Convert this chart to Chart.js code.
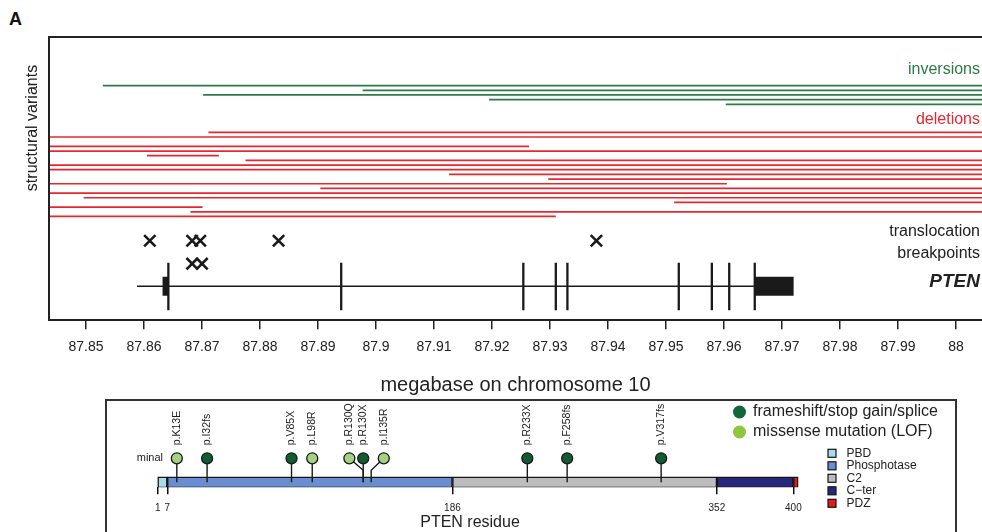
<!DOCTYPE html>
<html>
<head>
<meta charset="utf-8">
<script src="https://cdn.jsdelivr.net/npm/chart.js@4.4.1/dist/chart.umd.min.js"></script>
<style>
  html, body { margin: 0; padding: 0; background: #fff; overflow: hidden; width: 982px; height: 532px; }
  #top { position: absolute; left: 0; top: 0; }
  #panel { position: absolute; left: 105px; top: 399px; width: 852px; height: 160px; border: 2px solid #333; box-sizing: border-box; }
  #bottom { position: absolute; left: 106px; top: 401px; }
  #tag { position: absolute; left: 9px; top: 9px; font: bold 18px "Liberation Sans", Arial, sans-serif; color: #111; }
</style>
</head>
<body>
<div id="tag">A</div>
<canvas id="top" width="982" height="400"></canvas>
<div id="panel"></div>
<canvas id="bottom" width="850" height="140"></canvas>
<script>
const FONT = '"Liberation Sans", Arial, Helvetica, sans-serif';
const GREEN = "#2b7a47";
const RED = "#e8262d";
const INK = "#1a1a1a";

// ---- top panel: megabase on chromosome 10 ----
const tickValues = [87.85, 87.86, 87.87, 87.88, 87.89, 87.9, 87.91, 87.92, 87.93, 87.94, 87.95, 87.96, 87.97, 87.98, 87.99, 88];
const tickLabels = ["87.85", "87.86", "87.87", "87.88", "87.89", "87.9", "87.91", "87.92", "87.93", "87.94", "87.95", "87.96", "87.97", "87.98", "87.99", "88"];

// inversions (start, end in Mb), one per row
const invStart = [87.8529, 87.8977, 87.8702, 87.9195, 87.9603];
const invEnd = [88.05, 88.05, 88.05, 88.05, 88.05];
const invRow = [0, 1, 2, 3, 4];

// deletions
const delStart = [87.8711, 87.80, 87.80, 87.80, 87.8605, 87.8775, 87.80, 87.80, 87.9126, 87.9297, 87.80, 87.8904, 87.80, 87.8496, 87.9514, 87.80, 87.8680, 87.80];
const delEnd = [88.05, 88.05, 87.9264, 88.05, 87.8729, 88.05, 88.05, 88.05, 88.05, 88.05, 87.9605, 88.05, 88.05, 88.05, 88.05, 87.8701, 88.05, 87.9310];
const delRow = [10, 11, 13, 14, 15, 16, 17, 18, 19, 20, 21, 22, 23, 24, 25, 26, 27, 28];

// translocation breakpoints
const bpPos = [87.8610, 87.8683, 87.8697, 87.8832, 87.9380, 87.8683, 87.8700];
const bpRow = [33.2, 33.2, 33.2, 33.2, 33.2, 38.1, 38.1];

// PTEN gene model
const geneStart = 87.8588, geneEnd = 87.9653, geneRow = 42.93;
const exonPos = [87.8642, 87.8940, 87.9254, 87.9310, 87.9330, 87.9522, 87.9579, 87.9609, 87.9653];
const exonTop = 37.93, exonBottom = 48.07;
const utrStart = [87.8632, 87.9653];
const utrEnd = [87.8643, 87.9720];

function segment(x0, x1, y0, y1, color, width) {
  return {
    data: [{ x: x0, y: y0 }, { x: x1, y: y1 }],
    showLine: true, borderColor: color, borderWidth: width,
    borderCapStyle: "butt", pointRadius: 0, pointHoverRadius: 0, order: 2
  };
}

const topSets = [];
invStart.forEach((s, i) => topSets.push(segment(s, invEnd[i], invRow[i], invRow[i], GREEN, 1.7)));
delStart.forEach((s, i) => topSets.push(segment(s, delEnd[i], delRow[i], delRow[i], RED, 1.7)));
topSets.push(segment(geneStart, geneEnd, geneRow, geneRow, INK, 1.5));
exonPos.forEach(x => topSets.push(segment(x, x, exonTop, exonBottom, INK, 2.3)));
utrStart.forEach((s, i) => topSets.push(segment(s, utrEnd[i], geneRow, geneRow, INK, 19)));
topSets.push({
  data: bpPos.map((x, i) => ({ x: x, y: bpRow[i] })),
  pointStyle: "crossRot", pointRadius: 8, pointHoverRadius: 8,
  borderColor: INK, borderWidth: 2.6, order: 0
});

const topDecor = {
  id: "topDecor",
  afterDraw(chart) {
    const { ctx, chartArea: a } = chart;
    ctx.save();
    ctx.strokeStyle = "#222";
    ctx.lineWidth = 2;
    ctx.beginPath();
    ctx.moveTo(a.left, a.bottom);
    ctx.lineTo(a.left, a.top);
    ctx.lineTo(a.right, a.top);
    ctx.stroke();

    ctx.fillStyle = "#222";
    ctx.font = "16px " + FONT;
    ctx.textBaseline = "middle";
    ctx.save();
    ctx.translate(33, 128);
    ctx.rotate(-Math.PI / 2);
    ctx.textAlign = "center";
    ctx.fillText("structural variants", 0, 0);
    ctx.restore();

    ctx.textAlign = "right";
    const rx = a.right - 2;
    ctx.fillStyle = GREEN;
    ctx.fillText("inversions", rx, 70);
    ctx.fillStyle = RED;
    ctx.fillText("deletions", rx, 120);
    ctx.fillStyle = "#222";
    ctx.fillText("translocation", rx, 232);
    ctx.fillText("breakpoints", rx, 254);
    ctx.font = "italic bold 19px " + FONT;
    ctx.fillText("PTEN", rx, 282);
    ctx.restore();
  }
};

new Chart(document.getElementById("top"), {
  type: "scatter",
  data: { datasets: topSets },
  options: {
    responsive: false,
    animation: false,
    events: [],
    layout: { autoPadding: false, padding: { left: 49, top: 37, right: 0, bottom: 3 } },
    plugins: { legend: { display: false }, tooltip: { enabled: false } },
    scales: {
      x: {
        type: "linear", min: 87.84362, max: 88.00448,
        afterBuildTicks: s => { s.ticks = tickValues.map(v => ({ value: v })); },
        afterFit: s => { s.paddingLeft = 0; s.paddingRight = 0; },
        border: { display: true, color: "#222", width: 2 },
        grid: { drawOnChartArea: false, drawTicks: true, tickLength: 9, color: "#222", lineWidth: 1.5 },
        ticks: {
          autoSkip: false, maxRotation: 0, padding: 10, color: "#222",
          font: { family: FONT, size: 14 },
          callback: (v, i) => tickLabels[i]
        },
        title: {
          display: true, text: "megabase on chromosome 10", color: "#222",
          font: { family: FONT, size: 20 }, padding: { top: 7, bottom: 0 }
        }
      },
      y: { type: "linear", reverse: true, min: -10.4, max: 50.2, display: false }
    }
  },
  plugins: [topDecor]
});

// ---- bottom panel: PTEN protein ----
const domName = ["PBD", "Phosphotase", "C2", "C\u2212ter", "PDZ"];
const domStart = [1, 7, 186, 352, 400];
const domEnd = [7, 186, 352, 400, 403];
const domColor = ["#a9dce9", "#6a8ed0", "#bdbdbd", "#26267a", "#e41a1c"];
const residueTicks = [1, 7, 186, 352, 400];

const mutName = ["p.K13E", "p.I32fs", "p.V85X", "p.L98R", "p.R130Q", "p.R130X", "p.I135R", "p.R233X", "p.F258fs", "p.V317fs"];
const mutPos = [13, 32, 85, 98, 130, 130, 135, 233, 258, 317];
const mutType = ["missense", "truncating", "truncating", "missense", "missense", "truncating", "missense", "truncating", "truncating", "truncating"];

// layout only: sideways nudge of crowded lollipop heads, in residues
const headShift = [0, 0, 0, 0, -8.7, 0, 7.9, 0, 0, 0];
const BAR_Y = 5, KNEE_Y = 17, HEAD_Y = 29, LABEL_Y = 42;
const DARK = "#0f5c30", LIGHT = "#a3d283";
const LEG_DARK = "#11673a", LEG_LIGHT = "#8dc63f";

const botSets = [];
botSets.push({
  type: "bar", indexAxis: "y", barThickness: 11,
  data: domStart.map((s, i) => ({ x: [s, domEnd[i]], y: BAR_Y })),
  backgroundColor: domColor, borderColor: "#151515", borderWidth: 1.5,
  borderSkipped: false, order: 3
});
mutPos.forEach((p, i) => {
  const pts = [{ x: p, y: BAR_Y }];
  if (headShift[i] !== 0) pts.push({ x: p, y: KNEE_Y });
  pts.push({ x: p + headShift[i], y: HEAD_Y });
  botSets.push({
    type: "scatter", data: pts, showLine: true, borderColor: "#1a1a1a",
    borderWidth: 1.4, pointRadius: 0, pointHoverRadius: 0, order: 1
  });
});
botSets.push({
  type: "scatter",
  data: mutPos.map((p, i) => ({ x: p + headShift[i], y: HEAD_Y })),
  pointRadius: 5.5, pointHoverRadius: 5.5,
  backgroundColor: mutType.map(t => t === "missense" ? LIGHT : DARK),
  borderColor: "#1a1a1a", borderWidth: 1.3, order: 0, clip: false
});

const botDecor = {
  id: "botDecor",
  afterDraw(chart) {
    const { ctx } = chart;
    const x = chart.scales.x, y = chart.scales.y;
    ctx.save();
    ctx.fillStyle = "#222";
    ctx.font = "10.5px " + FONT;
    ctx.textBaseline = "middle";
    mutName.forEach((n, i) => {
      ctx.save();
      ctx.translate(x.getPixelForValue(mutPos[i] + headShift[i]), y.getPixelForValue(LABEL_Y));
      ctx.rotate(-Math.PI / 2);
      ctx.textAlign = "left";
      ctx.fillText(n, 0, 0);
      ctx.restore();
    });
    ctx.font = "11px " + FONT;
    ctx.textAlign = "right";
    ctx.fillText("minal", 57, y.getPixelForValue(HEAD_Y));

    // mutation type legend
    const leg = [["frameshift/stop gain/splice", LEG_DARK], ["missense mutation (LOF)", LEG_LIGHT]];
    ctx.font = "16px " + FONT;
    ctx.textAlign = "left";
    leg.forEach((l, i) => {
      const cy = 11 + i * 20;
      ctx.beginPath();
      ctx.fillStyle = l[1];
      ctx.arc(633.5, cy, 6.5, 0, Math.PI * 2);
      ctx.fill();
      ctx.fillStyle = "#222";
      ctx.fillText(l[0], 647, cy);
    });

    // domain legend
    ctx.font = "12px " + FONT;
    domName.forEach((n, i) => {
      const cy = 52.3 + i * 12.5;
      ctx.fillStyle = domColor[i];
      ctx.fillRect(722, cy - 4, 8, 8);
      ctx.strokeStyle = "#151515";
      ctx.lineWidth = 1.2;
      ctx.strokeRect(722, cy - 4, 8, 8);
      ctx.fillStyle = "#222";
      ctx.fillText(n, 740.5, cy);
    });
    ctx.restore();
  }
};

new Chart(document.getElementById("bottom"), {
  type: "scatter",
  data: { datasets: botSets },
  options: {
    responsive: false,
    animation: false,
    events: [],
    layout: { autoPadding: false, padding: { left: 0, top: 0, right: 122, bottom: 8.5 } },
    plugins: { legend: { display: false }, tooltip: { enabled: false } },
    scales: {
      x: {
        type: "linear", min: -31.45, max: 425.5, offset: false,
        afterBuildTicks: s => { s.ticks = residueTicks.map(v => ({ value: v })); },
        afterFit: s => { s.paddingLeft = 0; s.paddingRight = 0; },
        border: { display: false },
        grid: { offset: false, drawOnChartArea: false, drawTicks: true, tickLength: 7, color: "#111", lineWidth: 1.5 },
        ticks: {
          autoSkip: false, maxRotation: 0, padding: 8, color: "#222",
          font: { family: FONT, size: 10 },
          callback: v => String(v)
        },
        title: {
          display: true, text: "PTEN residue", color: "#222",
          font: { family: FONT, size: 16 }, padding: { top: -9, bottom: 0 }
        }
      },
      y: { type: "linear", min: 0, max: 86.3, offset: false, grid: { offset: false }, display: false }
    }
  },
  plugins: [botDecor]
});
</script>
</body>
</html>
